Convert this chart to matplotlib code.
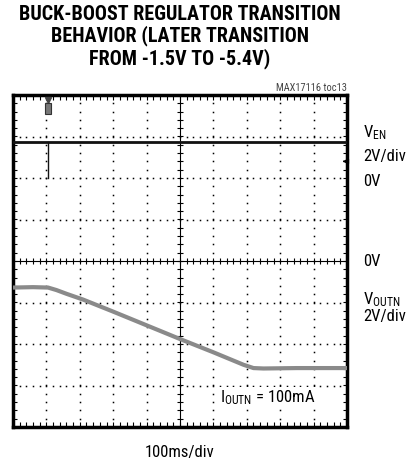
import matplotlib
matplotlib.use("Agg")
import matplotlib.pyplot as plt
from matplotlib.patches import Rectangle
import numpy as np

plt.rcParams['font.family'] = ['Roboto Condensed', 'Liberation Sans Narrow', 'Roboto', 'DejaVu Sans']
plt.rcParams['mathtext.default'] = 'regular'

# scope traces, in divisions (x: 0..10, y: -4..4)
en_x = [0, 10]
en_y = [2.87, 2.87]
trig_x = [1.05, 1.05]
trig_y = [2.87, 2.0]

voutn_x = [0, 0.6, 1.05, 1.3, 1.6, 2.1, 3.0, 4.0, 5.0, 6.0, 6.9, 7.2, 7.5, 8.5, 10]
voutn_y = [-0.64, -0.63, -0.64, -0.70, -0.79, -0.93, -1.22, -1.55, -1.88, -2.20, -2.50, -2.58, -2.59, -2.58, -2.58]

W, H = 409, 458
fig = plt.figure(figsize=(W / 100, H / 100), dpi=100)
ax = fig.add_axes([13 / W, 1 - 427 / H, 334 / W, 332 / H])
ax.set_xlim(0, 10)
ax.set_ylim(-4, 4)
ax.set_xticks([])
ax.set_yticks([])
for s in ax.spines.values():
    s.set_linewidth(2.5)

# dotted graticule
fine_x = np.arange(0, 10.01, 0.2)
fine_y = np.arange(-4, 4.01, 0.2)
for gx in range(1, 10):
    if gx == 5:
        continue
    ax.plot(np.full_like(fine_y, gx), fine_y, ls='none', marker='s', ms=1.1, color='k', mew=0)
for gy in range(-3, 4):
    if gy == 0:
        continue
    ax.plot(fine_x, np.full_like(fine_x, gy), ls='none', marker='s', ms=1.1, color='k', mew=0)

# centre axes with tick marks
ax.axhline(0, color='k', lw=0.8)
ax.axvline(5, color='k', lw=0.8)
ax.plot(fine_x, np.zeros_like(fine_x), ls='none', marker='|', ms=5, mew=0.8, color='k')
ax.plot(np.full_like(fine_y, 5), fine_y, ls='none', marker='_', ms=5, mew=0.8, color='k')

# border ticks
ax.plot(fine_x, np.full_like(fine_x, 3.93), ls='none', marker='|', ms=2.5, mew=0.8, color='k')
ax.plot(fine_x, np.full_like(fine_x, -3.93), ls='none', marker='|', ms=2.5, mew=0.8, color='k')
ax.plot(np.full_like(fine_y, 0.07), fine_y, ls='none', marker='_', ms=2.5, mew=0.8, color='k')
ax.plot(np.full_like(fine_y, 9.93), fine_y, ls='none', marker='_', ms=2.5, mew=0.8, color='k')

# traces
ax.plot(en_x, en_y, color='#111111', lw=2.0, zorder=5)
ax.plot(trig_x, trig_y, color='#111111', lw=1.0, zorder=5)
ax.plot(voutn_x, voutn_y, color='#8a8a8a', lw=3.0, solid_capstyle='butt', zorder=5)

# trigger marker and ground arrow
ax.plot([1.05], [3.88], marker='v', ms=5, color='#444444', zorder=6)
ax.add_patch(Rectangle((0.97, 3.55), 0.16, 0.26, facecolor='#777777', edgecolor='#333333',
                       lw=0.8, zorder=6))
ax.annotate('', xy=(9.78, 2.4), xytext=(10.0, 2.4),
            arrowprops=dict(arrowstyle='-|>', color='k', lw=1.0, mutation_scale=8))

ax.text(7.62, -3.3, r'I$_{OUTN}$ = 100mA', fontsize=12, ha='center', va='center',
        bbox=dict(facecolor='white', edgecolor='none', pad=1.5), zorder=7)

# labels
def ftext(x, y, s, **kw):
    fig.text(x / W, 1 - y / H, s, **kw)

ftext(180, 37, 'BUCK-BOOST REGULATOR TRANSITION\nBEHAVIOR (LATER TRANSITION\nFROM -1.5V TO -5.4V)',
      fontsize=14.5, fontweight='black', ha='center', va='center', linespacing=1.12)
ftext(347, 88, 'MAX17116 toc13', fontsize=7.5, color='#444444', ha='right', va='center')
ftext(363, 133, r'V$_{EN}$', fontsize=12, ha='left', va='center')
ftext(363, 156, '2V/div', fontsize=12, ha='left', va='center')
ftext(363, 182, '0V', fontsize=12, ha='left', va='center')
ftext(363, 262, '0V', fontsize=12, ha='left', va='center')
ftext(363, 300, r'V$_{OUTN}$', fontsize=12, ha='left', va='center')
ftext(363, 316, '2V/div', fontsize=12, ha='left', va='center')
ftext(180, 452, '100ms/div', fontsize=12, ha='center', va='center')

fig.savefig('out.png', dpi=100)
